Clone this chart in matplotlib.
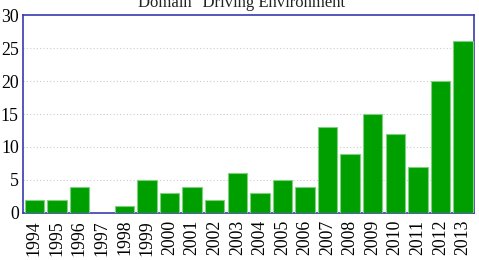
import matplotlib
matplotlib.use('Agg')
import matplotlib.pyplot as plt

# data
years = ['1994', '1995', '1996', '1997', '1998', '1999', '2000', '2001', '2002', '2003',
         '2004', '2005', '2006', '2007', '2008', '2009', '2010', '2011', '2012', '2013']
counts = [2, 2, 4, 0, 1, 5, 3, 4, 2, 6, 3, 5, 4, 13, 9, 15, 12, 7, 20, 26]
yticks = [0, 5, 10, 15, 20, 25, 30]
title = 'Domain "Driving Environment"'

plt.rcParams['font.family'] = ['Liberation Serif', 'DejaVu Serif']

fig = plt.figure(figsize=(4.79, 2.60), dpi=100)
ax = fig.add_axes([0.048, 0.181, 0.942, 0.761])

x = list(range(len(years)))
ax.bar(x, counts, width=0.86, color='#009f00', edgecolor='#7fd07f', linewidth=0.8, zorder=3)

ax.set_xlim(-0.5, len(years) - 0.5)
ax.set_ylim(0, 30)
ax.set_yticks(yticks)
ax.set_xticks(x)
ax.set_xticklabels(years, rotation=90, fontsize=12.8)
ax.tick_params(axis='y', labelsize=12.8, length=0, pad=3)
ax.tick_params(axis='x', length=0, pad=5)

for v in yticks[1:-1]:
    ax.axhline(v, color='#cccccc', linestyle=(0, (1, 2)), linewidth=0.8, zorder=1)

for s in ax.spines.values():
    s.set_color('#3a3ab0')
    s.set_linewidth(1.2)

fig.text(0.512, 0.988, title, ha='center', va='center', fontsize=12, color='#222222')

fig.savefig('out.png', dpi=100)
